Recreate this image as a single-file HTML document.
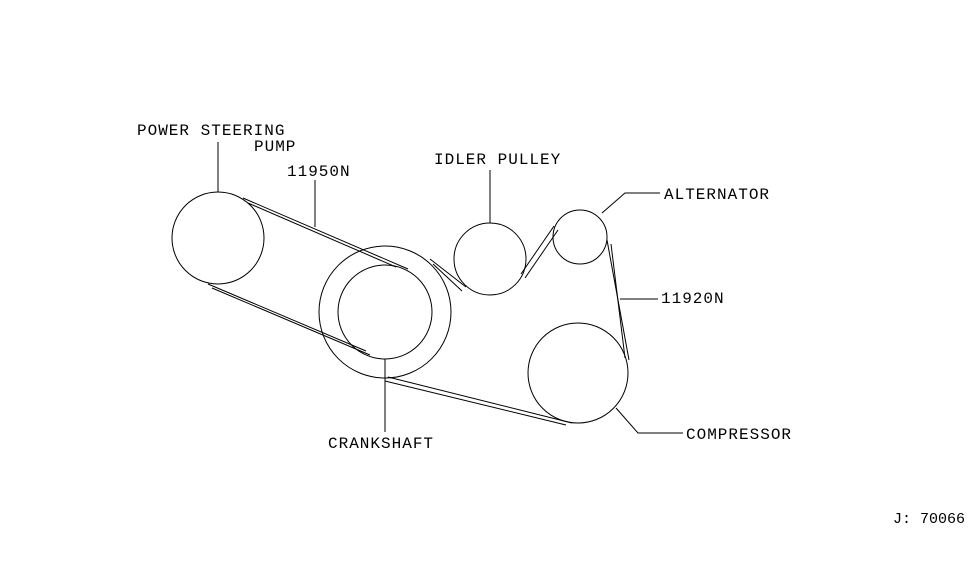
<!DOCTYPE html>
<html><head><style>
html,body{margin:0;padding:0;background:#fff;}
svg{display:block;}
text{font-family:"Liberation Mono",monospace;font-size:16px;letter-spacing:1px;fill:#000;}
</style></head><body>
<svg width="975" height="566" viewBox="0 0 975 566" xmlns="http://www.w3.org/2000/svg">
<g fill="none" stroke="#000" stroke-width="1">
<circle cx="218" cy="238" r="46"/>
<circle cx="385" cy="312" r="47"/>
<circle cx="385" cy="312" r="66"/>
<circle cx="490" cy="259" r="36"/>
<circle cx="580" cy="237" r="27"/>
<circle cx="578" cy="373" r="50"/>
<!-- PS belt -->
<line x1="243" y1="198" x2="408" y2="269"/>
<line x1="248" y1="203" x2="396" y2="267"/>
<line x1="208" y1="284" x2="366" y2="351"/>
<line x1="212" y1="288" x2="370" y2="355"/>
<!-- main belt -->
<line x1="430" y1="259" x2="466" y2="287"/>
<line x1="433" y1="264" x2="462" y2="291"/>
<line x1="521" y1="274" x2="554" y2="226"/>
<line x1="525" y1="278" x2="558" y2="230"/>
<line x1="607" y1="240" x2="629" y2="360"/>
<line x1="611" y1="244" x2="625" y2="358"/>
<line x1="388" y1="377" x2="572" y2="423"/>
<line x1="385" y1="381" x2="566" y2="425"/>
<!-- leaders -->
<line x1="218" y1="142" x2="218" y2="192"/>
<line x1="315" y1="180" x2="315" y2="227"/>
<line x1="490" y1="170" x2="490" y2="223"/>
<polyline points="602,213 625,193 660,193"/>
<line x1="620" y1="299" x2="658" y2="299"/>
<polyline points="616,408 638,433 683,433"/>
<line x1="385" y1="359" x2="385" y2="432"/>
</g>
<text x="137" y="135">POWER STEERING</text>
<text x="254" y="151">PUMP</text>
<text x="287" y="176">11950N</text>
<text x="434" y="164">IDLER PULLEY</text>
<text x="664" y="199">ALTERNATOR</text>
<text x="661" y="303">11920N</text>
<text x="686" y="439">COMPRESSOR</text>
<text x="328" y="448">CRANKSHAFT</text>
<text x="893" y="523" style="font-size:15px;letter-spacing:0">J: 70066</text>
</svg>
</body></html>
